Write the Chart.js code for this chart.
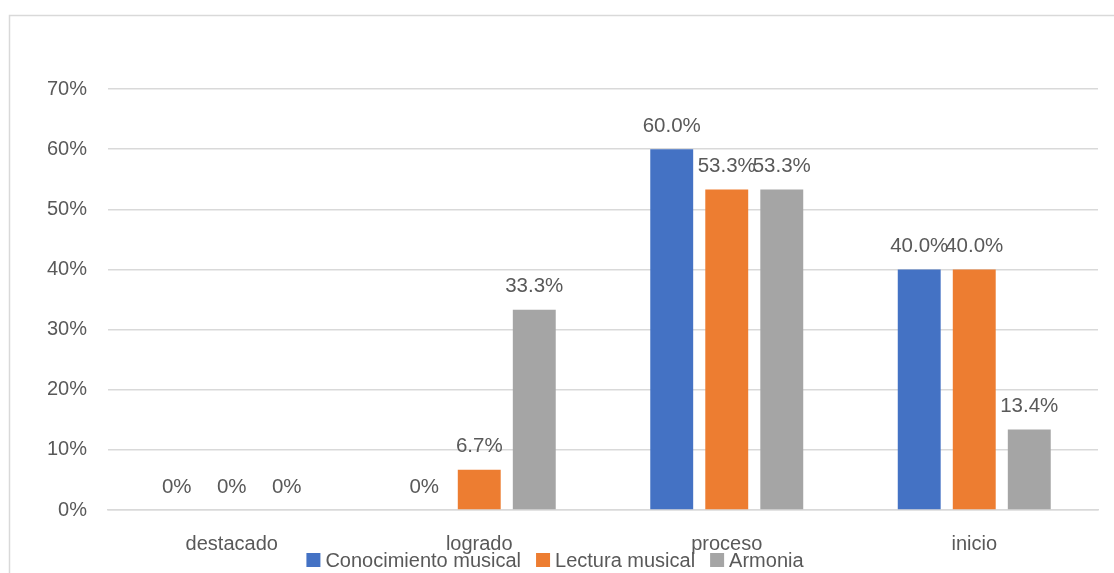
<!DOCTYPE html>
<html>
<head>
<meta charset="utf-8">
<script src="https://cdn.jsdelivr.net/npm/chart.js@4.4.1/dist/chart.umd.min.js"></script>
<style>
  html, body { margin: 0; padding: 0; background: #ffffff; }
  #wrap { width: 1114px; height: 573px; position: relative; }
</style>
</head>
<body>
<div id="wrap"><canvas id="c"></canvas></div>
<script>
const categories = ['destacado', 'logrado', 'proceso', 'inicio'];
const seriesNames = ['Conocimiento musical', 'Lectura musical', 'Armonia'];
const conocimientoMusical = [0, 0, 60.0, 40.0];
const lecturaMusical = [0, 6.7, 53.3, 40.0];
const armonia = [0, 33.3, 53.3, 13.4];
const seriesColors = ['#4472C4', '#ED7D31', '#A5A5A5'];
const yTickMin = 0, yTickMax = 70, yTickStep = 10;

const FONT = "'Liberation Sans', Arial, sans-serif";
const TEXT = '#595959';

function fmt(v) { return v === 0 ? '0%' : v.toFixed(1) + '%'; }

const borderPlugin = {
  id: 'outerBorder',
  beforeDraw(chart) {
    const ctx = chart.ctx;
    ctx.save();
    ctx.fillStyle = '#ffffff';
    ctx.fillRect(0, 0, chart.width, chart.height);
    ctx.strokeStyle = '#d9d9d9';
    ctx.lineWidth = 1.5;
    ctx.strokeRect(9.5, 15.5, 1400, 800);
    ctx.restore();
  }
};

const labelPlugin = {
  id: 'valueLabels',
  afterDatasetsDraw(chart) {
    const ctx = chart.ctx;
    ctx.save();
    ctx.font = '20.5px ' + FONT;
    ctx.fillStyle = TEXT;
    ctx.textAlign = 'center';
    ctx.textBaseline = 'alphabetic';
    chart.data.datasets.forEach((ds, i) => {
      const meta = chart.getDatasetMeta(i);
      meta.data.forEach((el, j) => {
        ctx.fillText(fmt(ds.data[j]), el.x, el.y - 17.5);
      });
    });
    ctx.restore();
  }
};

const legendPlugin = {
  id: 'customLegend',
  afterDraw(chart) {
    const ctx = chart.ctx;
    ctx.save();
    ctx.font = '20px ' + FONT;
    const box = 14, gapBoxText = 5, gapItems = 15;
    const items = chart.data.datasets.map(ds => ({ text: ds.label, color: ds.backgroundColor }));
    let total = 0;
    items.forEach((it, i) => {
      it.w = ctx.measureText(it.text).width;
      total += box + gapBoxText + it.w + (i < items.length - 1 ? gapItems : 0);
    });
    let x = 555 - total / 2;
    const cy = 560;
    ctx.textBaseline = 'middle';
    ctx.textAlign = 'left';
    items.forEach(it => {
      ctx.fillStyle = it.color;
      ctx.fillRect(x, cy - box / 2, box, box);
      x += box + gapBoxText;
      ctx.fillStyle = TEXT;
      ctx.fillText(it.text, x, cy + 1);
      x += it.w + gapItems;
    });
    ctx.restore();
  }
};

const seriesData = [conocimientoMusical, lecturaMusical, armonia];

new Chart(document.getElementById('c'), {
  type: 'bar',
  data: {
    labels: categories,
    datasets: seriesNames.map((name, i) => ({
      label: name,
      data: seriesData[i],
      backgroundColor: seriesColors[i],
      borderWidth: 0,
      categoryPercentage: 0.667,
      barPercentage: 0.78
    }))
  },
  options: {
    responsive: true,
    maintainAspectRatio: false,
    animation: false,
    devicePixelRatio: 1,
    layout: { padding: { top: 89, right: 16, bottom: 0, left: 0 } },
    plugins: {
      legend: { display: false },
      tooltip: { enabled: false }
    },
    scales: {
      x: {
        grid: { display: false },
        border: { display: true, color: '#d9d9d9', width: 1.5 },
        ticks: { font: { family: FONT, size: 20 }, color: TEXT, padding: 14 },
        afterFit(scale) { scale.height = 63; }
      },
      y: {
        min: yTickMin,
        max: yTickMax,
        ticks: {
          stepSize: yTickStep,
          font: { family: FONT, size: 20 },
          color: TEXT,
          padding: 21,
          callback: v => v + '%'
        },
        grid: { color: '#d9d9d9', lineWidth: 1.5, drawTicks: false },
        border: { display: false },
        afterFit(scale) { scale.width = 108; }
      }
    }
  },
  plugins: [borderPlugin, labelPlugin, legendPlugin]
});
</script>
</body>
</html>
